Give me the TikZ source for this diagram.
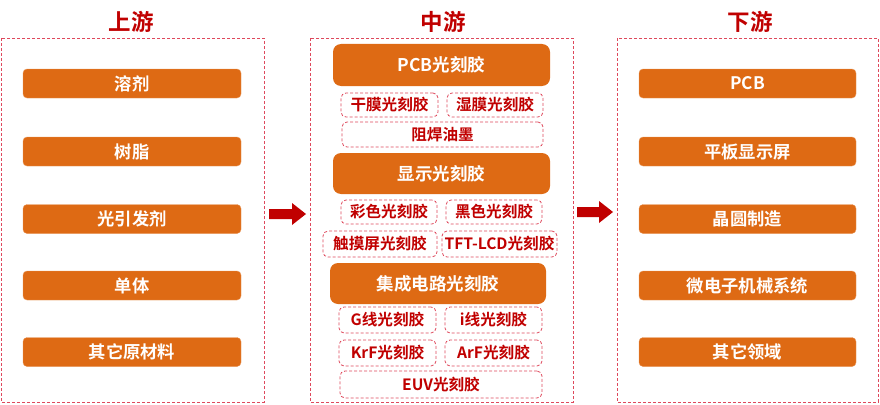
\documentclass[tikz,border=0pt]{standalone}
\usepackage{fontspec}
\setmainfont{Noto Sans CJK SC Bold}
\usetikzlibrary{positioning}
\definecolor{orng}{RGB}{222,106,20}
\definecolor{dred}{RGB}{192,0,0}
\definecolor{dashc}{RGB}{222,72,92}
\tikzset{
  frame/.style={draw=dashc,line width=0.9pt,dash pattern=on 3pt off 2pt},
  ttl/.style={text=dred,font=\fontsize{22.5}{22.5}\selectfont},
  obox/.style={fill=orng,draw=orng!70!white,line width=0.4pt,rounded corners=4pt,text=white,
    font=\fontsize{17.3}{17.3}\selectfont,inner sep=0pt,minimum height=29pt},
  bigbox/.style={fill=orng,rounded corners=8pt,text=white,
    font=\fontsize{17.5}{17.5}\selectfont,inner sep=0pt},
  subbox/.style={draw=dashc,line width=0.8pt,dash pattern=on 3pt off 2pt,rounded corners=5pt,
    text=dred,font=\fontsize{15.6}{15.6}\selectfont,inner sep=0pt},
  blkarrow/.style={fill=dred,draw=none}
}
\begin{document}
\begin{tikzpicture}[x=1pt,y=-1pt]
\useasboundingbox (0,0) rectangle (880,404);
% frames
\draw[frame] (1,38) rectangle (264,402);
\draw[frame] (310,38) rectangle (573,402);
\draw[frame] (617,38) rectangle (878,402);
% titles
\node[ttl] (t1) at (131,22) {上游};
\node[ttl] (t2) at (443,22) {中游};
\node[ttl] (t3) at (750,22) {下游};
% left boxes
\foreach \n/\y/\t in {l1/83.5/溶剂, l2/151.5/树脂, l3/219/光引发剂, l4/285.5/单体, l5/352/其它原材料}{
  \node[obox,minimum width=218pt] (\n) at (132,\y) {\t};
}
% right boxes
\foreach \n/\y/\t in {r1/83.5/PCB, r2/151.5/平板显示屏, r3/219/晶圆制造, r4/285.5/微电子机械系统, r5/352/其它领域}{
  \node[obox,minimum width=217pt] (\n) at (747.5,\y) {\t};
}
% middle
\node[bigbox,minimum width=217pt,minimum height=42pt] (m1) at (441.5,65) {PCB光刻胶};
\node[subbox,minimum width=97pt,minimum height=24pt] (m11) at (389.5,105) {干膜光刻胶};
\node[subbox,minimum width=96pt,minimum height=24pt] (m12) at (495,105) {湿膜光刻胶};
\node[subbox,minimum width=201pt,minimum height=25pt] (m13) at (442.5,134.5) {阻焊油墨};
\node[bigbox,minimum width=217pt,minimum height=41pt] (m2) at (441.5,173.5) {显示光刻胶};
\node[subbox,minimum width=96pt,minimum height=24pt] (m21) at (389,212) {彩色光刻胶};
\node[subbox,minimum width=96pt,minimum height=24pt] (m22) at (494,212) {黑色光刻胶};
\node[subbox,minimum width=114pt,minimum height=26pt] (m23) at (380,244) {触摸屏光刻胶};
\node[subbox,minimum width=115pt,minimum height=26pt] (m24) at (499.5,244) {TFT-LCD光刻胶};
\node[bigbox,minimum width=216pt,minimum height=41pt] (m3) at (438,283.5) {集成电路光刻胶};
\node[subbox,minimum width=97pt,minimum height=26pt] (m31) at (387.5,320) {G线光刻胶};
\node[subbox,minimum width=97pt,minimum height=26pt] (m32) at (493.5,320) {i线光刻胶};
\node[subbox,minimum width=97pt,minimum height=26pt] (m33) at (387.5,353) {KrF光刻胶};
\node[subbox,minimum width=97pt,minimum height=26pt] (m34) at (493.5,353) {ArF光刻胶};
\node[subbox,minimum width=202pt,minimum height=27pt] (m35) at (441,384.5) {EUV光刻胶};
% arrows
\fill[blkarrow] (269,209) -- (292,209) -- (292,203) -- (306,214) -- (292,225) -- (292,219) -- (269,219) -- cycle;
\fill[blkarrow] (577,207) -- (599,207) -- (599,201) -- (613,212) -- (599,223) -- (599,217) -- (577,217) -- cycle;
\end{tikzpicture}
\end{document}
